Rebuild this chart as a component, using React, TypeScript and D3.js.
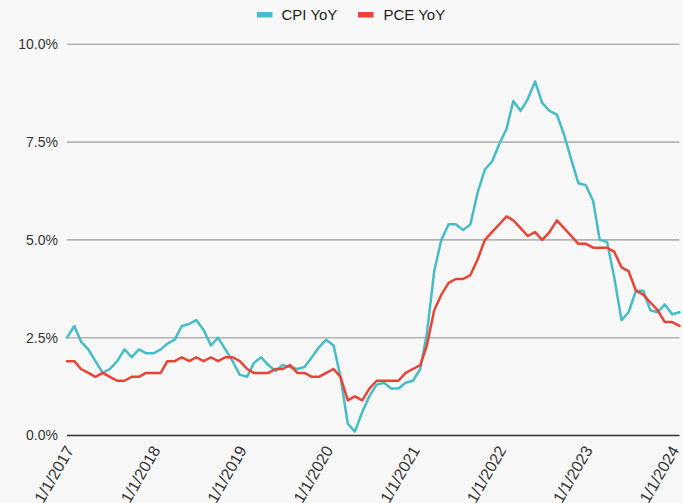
import React, { useEffect } from "react";
import * as d3 from "d3";

// Monthly observations, Jan 2017 .. Feb 2024
const months: Date[] = d3.timeMonth.range(new Date(2017, 0, 1), new Date(2024, 2, 1));

const cpiYoY: number[] = [
  // 2017
  2.5, 2.8, 2.4, 2.2, 1.9, 1.6, 1.7, 1.9, 2.2, 2.0, 2.2, 2.1,
  // 2018
  2.1, 2.2, 2.35, 2.45, 2.8, 2.85, 2.95, 2.7, 2.3, 2.5, 2.2, 1.9,
  // 2019
  1.55, 1.5, 1.85, 2.0, 1.8, 1.65, 1.8, 1.75, 1.7, 1.75, 2.0, 2.25,
  // 2020
  2.45, 2.3, 1.5, 0.3, 0.1, 0.6, 1.0, 1.3, 1.35, 1.2, 1.2, 1.35,
  // 2021
  1.4, 1.7, 2.6, 4.2, 5.0, 5.4, 5.4, 5.25, 5.4, 6.2, 6.8, 7.0,
  // 2022
  7.45, 7.85, 8.55, 8.3, 8.6, 9.05, 8.5, 8.3, 8.2, 7.7, 7.05, 6.45,
  // 2023
  6.4, 6.0, 5.0, 4.95, 4.05, 2.95, 3.15, 3.7, 3.7, 3.2, 3.15, 3.35,
  // 2024
  3.1, 3.15,
];

const pceYoY: number[] = [
  // 2017
  1.9, 1.9, 1.7, 1.6, 1.5, 1.6, 1.5, 1.4, 1.4, 1.5, 1.5, 1.6,
  // 2018
  1.6, 1.6, 1.9, 1.9, 2.0, 1.9, 2.0, 1.9, 2.0, 1.9, 2.0, 2.0,
  // 2019
  1.9, 1.7, 1.6, 1.6, 1.6, 1.7, 1.7, 1.8, 1.6, 1.6, 1.5, 1.5,
  // 2020
  1.6, 1.7, 1.5, 0.9, 1.0, 0.9, 1.2, 1.4, 1.4, 1.4, 1.4, 1.6,
  // 2021
  1.7, 1.8, 2.3, 3.2, 3.6, 3.9, 4.0, 4.0, 4.1, 4.5, 5.0, 5.2,
  // 2022
  5.4, 5.6, 5.5, 5.3, 5.1, 5.2, 5.0, 5.2, 5.5, 5.3, 5.1, 4.9,
  // 2023
  4.9, 4.8, 4.8, 4.8, 4.7, 4.3, 4.2, 3.7, 3.6, 3.4, 3.2, 2.9,
  // 2024
  2.9, 2.8,
];

const yTicks: number[] = [0, 2.5, 5, 7.5, 10];
const xTickYears: number[] = [2017, 2018, 2019, 2020, 2021, 2022, 2023, 2024];
const xTickLabels: string[] = ["1/1/2017", "1/1/2018", "1/1/2019", "1/1/2020", "1/1/2021", "1/1/2022", "1/1/2023", "1/1/2024"];

const seriesNames = ["CPI YoY", "PCE YoY"];
const seriesColors = ["#46BDC6", "#EA4335"];

const W = 683;
const H = 503;
const FONT = "'Liberation Sans', Arial, sans-serif";

export default function App() {
  useEffect(() => {
    document.body.style.margin = "0";
  }, []);

  const x = d3.scaleTime().domain([months[0], months[months.length - 1]]).range([67, 679.5]);
  const y = d3.scaleLinear().domain([0, 10]).range([435.5, 44.3]);

  const line = d3
    .line<number>()
    .x((_, i) => x(months[i]))
    .y((v) => y(v));

  const fmt = d3.format(".1f");
  const series = [cpiYoY, pceYoY];

  return (
    <svg width={W} height={H} style={{ display: "block" }} fontFamily={FONT}>
      <rect x={0} y={0} width={W} height={H} fill="#f8f8f8" />

      {/* gridlines */}
      {yTicks.map((t) => (
        <g key={t}>
          <line
            x1={67}
            x2={679.5}
            y1={y(t)}
            y2={y(t)}
            stroke={t === 0 ? "#333333" : "#b4b4b4"}
            strokeWidth={t === 0 ? 1.5 : 1.6}
          />
          <text x={58} y={y(t)} dy="0.35em" textAnchor="end" fontSize={14} fill="#333">
            {fmt(t)}%
          </text>
        </g>
      ))}

      {/* x labels */}
      {xTickYears.map((yr, i) => {
        const tx = x(new Date(yr, 0, 1));
        return (
          <text
            key={yr}
            transform={`translate(${tx + 2.6},${447.2}) rotate(-60)`}
            textAnchor="end"
            dy="0.35em"
            fontSize={16}
            fill="#333"
          >
            {xTickLabels[i]}
          </text>
        );
      })}

      {/* lines */}
      {series.map((s, i) => (
        <path
          key={seriesNames[i]}
          d={line(s) || ""}
          fill="none"
          stroke={seriesColors[i]}
          strokeWidth={2.5}
          strokeLinejoin="round"
          strokeLinecap="round"
        />
      ))}

      {/* legend */}
      <g>
        <rect x={257} y={12} width={15.5} height={5.5} fill={seriesColors[0]} />
        <text x={281.5} y={20} fontSize={15} fill="#222">
          {seriesNames[0]}
        </text>
        <rect x={358} y={12} width={15.5} height={5.5} fill={seriesColors[1]} />
        <text x={383.5} y={20} fontSize={15} fill="#222">
          {seriesNames[1]}
        </text>
      </g>
    </svg>
  );
}
